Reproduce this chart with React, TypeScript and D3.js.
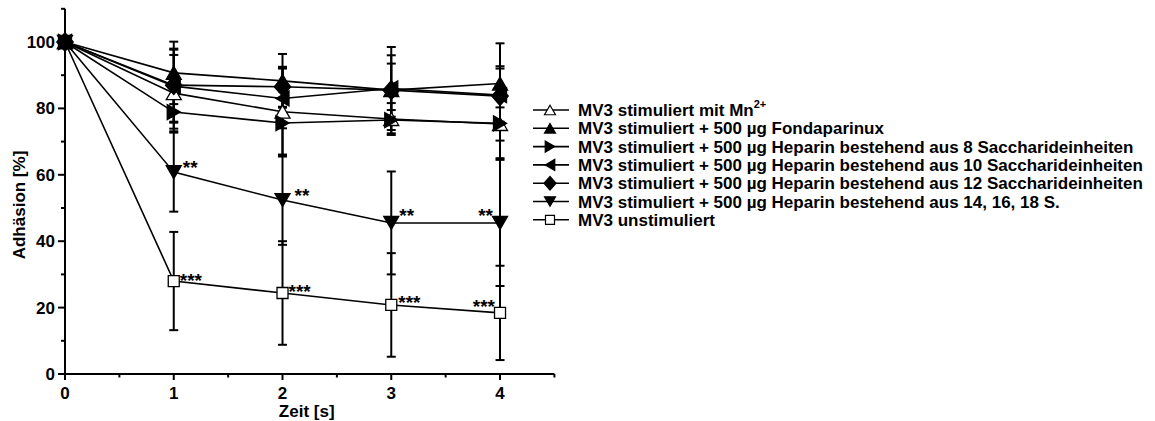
import React from 'react';
import * as d3 from 'd3';

// ---------- data ----------
const timePoints = [0, 1, 2, 3, 4];
const xMajorTicks = [0, 1, 2, 3, 4];
const xMinorTicks = [0.5, 1.5, 2.5, 3.5, 4.5];
const yMajorTicks = [0, 20, 40, 60, 80, 100];
const yMinorTicks = [10, 30, 50, 70, 90, 110];

const mnMean = [100, 84.6, 79.0, 76.8, 75.3];
const mnErr = [0, 11.5, 13.5, 4.8, 5.0];
const fondaMean = [100, 90.7, 88.3, 85.5, 87.5];
const fondaErr = [0, 9.4, 8.1, 13.0, 12.1];
const hep8Mean = [100, 78.9, 75.6, 76.5, 75.5];
const hep8Err = [0, 5.0, 9.5, 3.0, 10.5];
const hep10Mean = [100, 86.7, 83.0, 86.0, 84.0];
const hep10Err = [0, 11.0, 9.0, 10.0, 8.0];
const hep12Mean = [100, 87.0, 86.5, 85.5, 83.7];
const hep12Err = [0, 11.0, 6.0, 8.0, 9.0];
const hep14Mean = [100, 60.8, 52.4, 45.5, 45.5];
const hep14Err = [0, 11.9, 13.5, 15.5, 19.0];
const unstimMean = [100, 28.0, 24.4, 20.8, 18.4];
const unstimErr = [0, 14.8, 15.6, 15.6, 14.2];

const legendLabels = [
  'MV3 stimuliert mit Mn',
  'MV3 stimuliert + 500 µg Fondaparinux',
  'MV3 stimuliert + 500 µg Heparin bestehend aus 8 Saccharideinheiten',
  'MV3 stimuliert + 500 µg Heparin bestehend aus 10 Saccharideinheiten',
  'MV3 stimuliert + 500 µg Heparin bestehend aus 12 Saccharideinheiten',
  'MV3 stimuliert + 500 µg Heparin bestehend aus 14, 16, 18 S.',
  'MV3 unstimuliert',
];

const hep14Sig = ['', '**', '**', '**', '**'];
const unstimSig = ['', '***', '***', '***', '***'];

const xTitle = 'Zeit [s]';
const yTitle = 'Adhäsion [%]';

// ---------- styles / layout ----------
const FONT = '"Liberation Sans", Arial, Helvetica, sans-serif';
type Shape = 'up' | 'down' | 'left' | 'right' | 'diamond' | 'square';

const series = [
  { mean: mnMean, err: mnErr, shape: 'up' as Shape, filled: false },
  { mean: fondaMean, err: fondaErr, shape: 'up' as Shape, filled: true },
  { mean: hep8Mean, err: hep8Err, shape: 'right' as Shape, filled: true },
  { mean: hep10Mean, err: hep10Err, shape: 'left' as Shape, filled: true },
  { mean: hep12Mean, err: hep12Err, shape: 'diamond' as Shape, filled: true },
  { mean: hep14Mean, err: hep14Err, shape: 'down' as Shape, filled: true },
  { mean: unstimMean, err: unstimErr, shape: 'square' as Shape, filled: false },
];

const hep14SigOffset = [null, [9, -9, 'start'], [12, -9, 'start'], [8, -12, 'start'], [-7, -12, 'end']] as any[];
const unstimSigOffset = [null, [6, -5, 'start'], [6, -6, 'start'], [7, -7, 'start'], [-5, -11, 'end']] as any[];

function symbolPath(shape: Shape, s: number): string {
  if (shape === 'square') {
    const h = s / 2;
    return `M${-h},${-h}L${h},${-h}L${h},${h}L${-h},${h}Z`;
  }
  if (shape === 'diamond') {
    const w = s * 0.55, h = s * 0.62;
    return `M0,${-h}L${w},0L0,${h}L${-w},0Z`;
  }
  const h = s * 0.866;
  let pts: [number, number][] = [[0, -h / 2], [s / 2, h / 2], [-s / 2, h / 2]];
  const rot = (p: [number, number], a: number): [number, number] => [
    p[0] * Math.cos(a) - p[1] * Math.sin(a),
    p[0] * Math.sin(a) + p[1] * Math.cos(a),
  ];
  const ang = shape === 'up' ? 0 : shape === 'right' ? Math.PI / 2 : shape === 'down' ? Math.PI : -Math.PI / 2;
  pts = pts.map((p) => rot(p, ang));
  return 'M' + pts.map((p) => `${p[0].toFixed(2)},${p[1].toFixed(2)}`).join('L') + 'Z';
}

export default function App() {
  const W = 1155, H = 421;
  const x = d3.scaleLinear().domain([0, 4.5]).range([65, 554.4]);
  const y = d3.scaleLinear().domain([0, 110]).range([374, 374 - 110 * 3.32]);
  const line = d3.line<number>().x((_, i) => x(timePoints[i])).y((d) => y(d));
  const capW = 4.5;

  const legendX = 533, legendY0 = 110, legendDy = 18.3;
  // open markers first, filled markers on top
  const drawOrder = [6, 0, 5, 4, 3, 2, 1];

  return (
    <svg width={W} height={H} style={{ position: 'absolute', left: 0, top: 0, background: '#fff' }}
      fontFamily={FONT} fontWeight="bold">
      <rect width={W} height={H} fill="#fff" />
      {/* axes */}
      <line x1={x(0)} x2={x(4.5)} y1={y(0)} y2={y(0)} stroke="#000" strokeWidth={2} />
      <line x1={x(0)} x2={x(0)} y1={y(0)} y2={y(110)} stroke="#000" strokeWidth={2} />
      {xMajorTicks.map((t) => (
        <g key={'xm' + t}>
          <line x1={x(t)} x2={x(t)} y1={y(0)} y2={y(0) + 6} stroke="#000" strokeWidth={2} />
          <text x={x(t)} y={y(0) + 25} fontSize={17} textAnchor="middle">{t}</text>
        </g>
      ))}
      {xMinorTicks.map((t) => (
        <line key={'xn' + t} x1={x(t)} x2={x(t)} y1={y(0)} y2={y(0) + 3.5} stroke="#000" strokeWidth={2} />
      ))}
      {yMajorTicks.map((t) => (
        <g key={'ym' + t}>
          <line x1={x(0) - 7} x2={x(0)} y1={y(t)} y2={y(t)} stroke="#000" strokeWidth={2} />
          <text x={x(0) - 10} y={y(t) + 6} fontSize={17} textAnchor="end">{t}</text>
        </g>
      ))}
      {yMinorTicks.map((t) => (
        <line key={'yn' + t} x1={x(0) - 4} x2={x(0)} y1={y(t)} y2={y(t)} stroke="#000" strokeWidth={2} />
      ))}
      <text x={(x(0) + x(4.5)) / 2 - 3} y={417} fontSize={17} textAnchor="middle">{xTitle}</text>
      <text transform={`translate(25,${y(50) - 3}) rotate(-90)`} fontSize={17} textAnchor="middle">{yTitle}</text>

      {/* error bars */}
      {series.map((s, si) => (
        <g key={'e' + si}>
          {s.mean.map((m, i) => s.err[i] > 0 ? (
            <g key={i}>
              <line x1={x(timePoints[i])} x2={x(timePoints[i])} y1={y(m + s.err[i])} y2={y(m - s.err[i])} stroke="#000" strokeWidth={2} />
              <line x1={x(timePoints[i]) - capW} x2={x(timePoints[i]) + capW} y1={y(m + s.err[i])} y2={y(m + s.err[i])} stroke="#000" strokeWidth={2} />
              <line x1={x(timePoints[i]) - capW} x2={x(timePoints[i]) + capW} y1={y(m - s.err[i])} y2={y(m - s.err[i])} stroke="#000" strokeWidth={2} />
            </g>
          ) : null)}
        </g>
      ))}
      {/* lines */}
      {series.map((s, si) => (
        <path key={'l' + si} d={line(s.mean) || ''} fill="none" stroke="#000" strokeWidth={1.6} />
      ))}
      {/* markers */}
      {drawOrder.map((si) => {
        const s = series[si];
        return (
          <g key={'m' + si}>
            {s.mean.map((m, i) => (
              <path key={i} transform={`translate(${x(timePoints[i])},${y(m)})`}
                d={symbolPath(s.shape, s.shape === 'square' ? 11 : 15)}
                fill={s.filled ? '#000' : '#fff'} stroke="#000" strokeWidth={1.3} />
            ))}
          </g>
        );
      })}
      {/* significance */}
      {hep14Sig.map((t, i) => t ? (
        <text key={'s14' + i} x={x(timePoints[i]) + hep14SigOffset[i][0]} y={y(hep14Mean[i]) + hep14SigOffset[i][1] + 11}
          fontSize={19} textAnchor={hep14SigOffset[i][2]}>{t}</text>
      ) : null)}
      {unstimSig.map((t, i) => t ? (
        <text key={'su' + i} x={x(timePoints[i]) + unstimSigOffset[i][0]} y={y(unstimMean[i]) + unstimSigOffset[i][1] + 11}
          fontSize={19} textAnchor={unstimSigOffset[i][2]}>{t}</text>
      ) : null)}

      {/* legend */}
      {legendLabels.map((lab, i) => {
        const s = series[i];
        const cy = legendY0 + i * legendDy;
        return (
          <g key={'lg' + i}>
            <line x1={legendX} x2={legendX + 36} y1={cy} y2={cy} stroke="#000" strokeWidth={1.6} />
            <path transform={`translate(${legendX + 17},${cy})`} d={symbolPath(s.shape, s.shape === 'square' ? 9 : 11)}
              fill={s.filled ? '#000' : '#fff'} stroke="#000" strokeWidth={1.2} />
            <text x={legendX + 45} y={cy + 6} fontSize={17}>
              {lab}
              {i === 0 ? <tspan fontSize={11} dy={-8}>2+</tspan> : null}
            </text>
          </g>
        );
      })}
    </svg>
  );
}
